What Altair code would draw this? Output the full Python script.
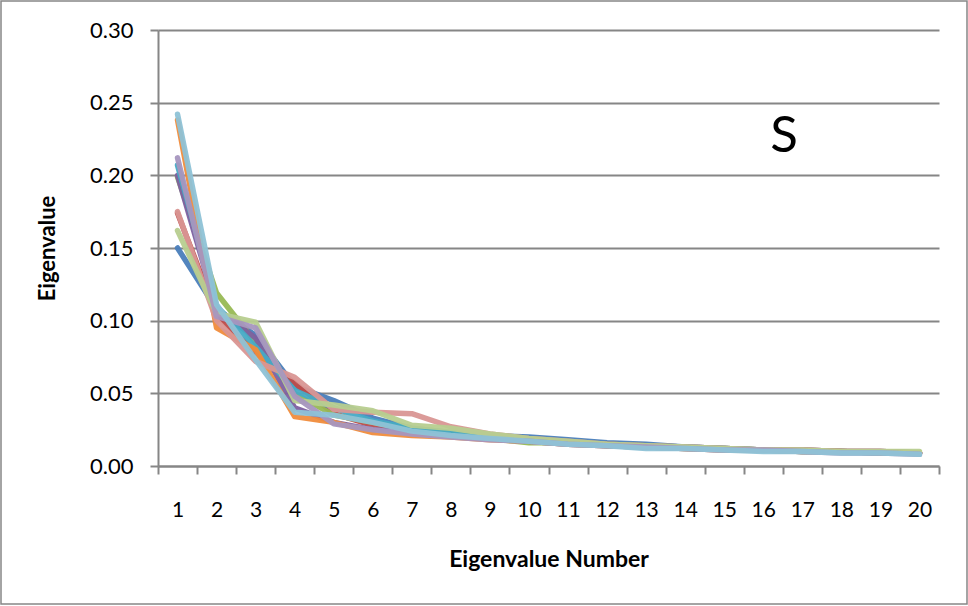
import altair as alt
import pandas as pd

numbers = list(range(1, 21))

series_names = ["S1", "S2", "S3", "S4", "S5", "S6", "S7", "S8", "S9", "S10"]
series_colors = ["#4A7EBB", "#BE4B48", "#98B954", "#7D60A0", "#46AAC5",
                 "#F08C3C", "#D99694", "#B7CD8F", "#A796BF", "#8EC2D6"]

s1 = [0.150, 0.108, 0.090, 0.055, 0.045, 0.033, 0.026, 0.023, 0.021, 0.020, 0.018, 0.016, 0.015, 0.013, 0.012, 0.011, 0.011, 0.010, 0.010, 0.009]
s2 = [0.174, 0.104, 0.078, 0.057, 0.036, 0.028, 0.024, 0.022, 0.020, 0.018, 0.016, 0.015, 0.014, 0.013, 0.012, 0.011, 0.011, 0.010, 0.010, 0.009]
s3 = [0.199, 0.119, 0.085, 0.050, 0.035, 0.030, 0.025, 0.022, 0.019, 0.016, 0.016, 0.014, 0.013, 0.012, 0.012, 0.011, 0.010, 0.010, 0.009, 0.009]
s4 = [0.200, 0.108, 0.088, 0.040, 0.030, 0.025, 0.023, 0.021, 0.019, 0.017, 0.015, 0.014, 0.013, 0.012, 0.011, 0.011, 0.010, 0.010, 0.009, 0.009]
s5 = [0.207, 0.110, 0.082, 0.052, 0.040, 0.031, 0.026, 0.023, 0.020, 0.018, 0.016, 0.015, 0.014, 0.013, 0.012, 0.011, 0.010, 0.010, 0.009, 0.009]
s6 = [0.238, 0.095, 0.080, 0.034, 0.030, 0.023, 0.021, 0.020, 0.018, 0.017, 0.015, 0.014, 0.013, 0.012, 0.011, 0.011, 0.010, 0.010, 0.009, 0.009]
s7 = [0.175, 0.100, 0.072, 0.061, 0.039, 0.037, 0.036, 0.027, 0.022, 0.019, 0.017, 0.015, 0.014, 0.013, 0.012, 0.011, 0.011, 0.010, 0.010, 0.009]
s8 = [0.162, 0.105, 0.099, 0.045, 0.042, 0.038, 0.028, 0.026, 0.022, 0.019, 0.017, 0.015, 0.014, 0.013, 0.012, 0.011, 0.011, 0.010, 0.010, 0.010]
s9 = [0.212, 0.103, 0.095, 0.048, 0.029, 0.025, 0.022, 0.020, 0.018, 0.017, 0.015, 0.014, 0.013, 0.012, 0.011, 0.011, 0.010, 0.009, 0.009, 0.008]
s10 = [0.242, 0.111, 0.073, 0.037, 0.035, 0.030, 0.024, 0.021, 0.019, 0.017, 0.015, 0.014, 0.012, 0.012, 0.011, 0.010, 0.010, 0.009, 0.009, 0.008]

all_series = [s1, s2, s3, s4, s5, s6, s7, s8, s9, s10]

rows = []
for name, vals in zip(series_names, all_series):
    for n, v in zip(numbers, vals):
        rows.append({"series": name, "n": n, "v": v})
df = pd.DataFrame(rows)

annot = pd.DataFrame({"label": ["S"]})

W, H = 781, 436
FONT = "Lato"

base = alt.Chart(df)

lines = base.mark_line(strokeWidth=5.5, strokeCap="round", strokeJoin="round", opacity=0.95).encode(
    x=alt.X("n:O", title="Eigenvalue Number",
            scale=alt.Scale(paddingInner=0, paddingOuter=0),
            axis=alt.Axis(labelAngle=0, tickBand="extent", grid=False,
                          domainColor="#868686", domainWidth=2,
                          tickColor="#868686", tickWidth=2, tickSize=8,
                          labelFont=FONT, labelFontSize=21, labelColor="#000000",
                          labelPadding=25, titleFont=FONT, titleFontSize=23,
                          titleFontWeight="bold", titleColor="#000000", titlePadding=28)),
    y=alt.Y("v:Q", title="Eigenvalue",
            scale=alt.Scale(domain=[0, 0.30], nice=False),
            axis=alt.Axis(values=[0, 0.05, 0.10, 0.15, 0.20, 0.25, 0.30], format=".2f",
                          grid=True, gridColor="#868686", gridWidth=2,
                          domainColor="#868686", domainWidth=2,
                          tickColor="#868686", tickWidth=2, tickSize=8,
                          labelFont=FONT, labelFontSize=22, labelColor="#000000",
                          labelPadding=17, titleFont=FONT, titleFontSize=22,
                          titleFontWeight="bold", titleColor="#000000", titlePadding=30)),
    color=alt.Color("series:N", scale=alt.Scale(domain=series_names, range=series_colors), legend=None),
    detail="series:N",
)

stext = alt.Chart(annot).mark_text(font=FONT, fontSize=51, color="#000000", align="center", baseline="alphabetic").encode(
    text="label:N", x=alt.value(626), y=alt.value(122)
)

border = alt.Chart(annot).mark_rect(fill=None, stroke="#868686", strokeWidth=1.5).encode(
    x=alt.value(-157), x2=alt.value(W + 28), y=alt.value(-29), y2=alt.value(H + 138)
)

chart = alt.layer(border, lines, stext).properties(
    width=W, height=H,
    padding={"left": 158, "top": 30, "right": 29, "bottom": 140},
    autosize=alt.AutoSizeParams(type="none"),
    background="#ffffff",
).configure_view(stroke=None)

chart.save("out.html", embed_options={"renderer": "svg", "actions": False})
